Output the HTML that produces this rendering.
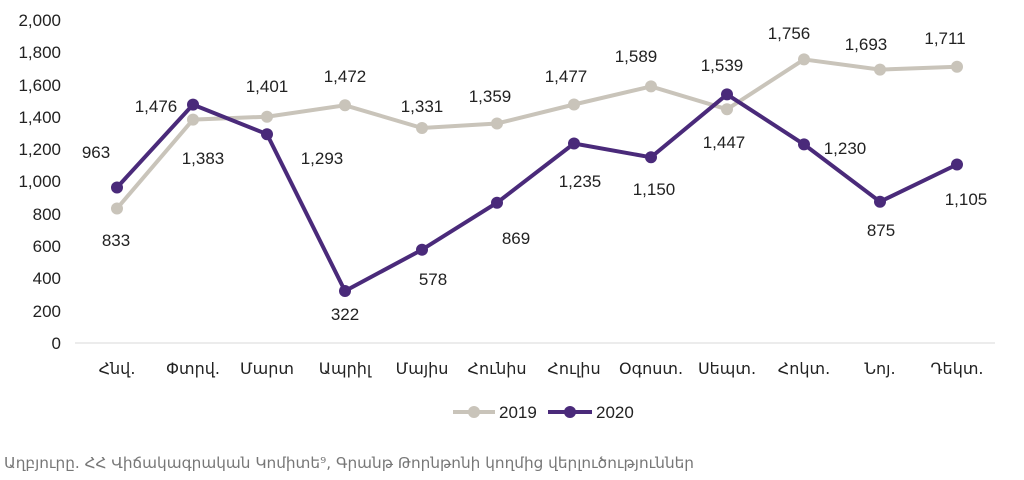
<!DOCTYPE html>
<html><head><meta charset="utf-8"><style>
body{margin:0;background:#fff;width:1024px;height:475px;overflow:hidden}
svg text{font-family:"Liberation Sans","DejaVu Sans",sans-serif;fill:#222;font-size:17px}
</style></head><body>
<svg width="1024" height="475" xmlns="http://www.w3.org/2000/svg">
<g text-anchor="end">
<text x="61" y="26">2,000</text><text x="61" y="58">1,800</text><text x="61" y="91">1,600</text>
<text x="61" y="123">1,400</text><text x="61" y="155">1,200</text><text x="61" y="187">1,000</text>
<text x="61" y="220">800</text><text x="61" y="252">600</text><text x="61" y="284">400</text>
<text x="61" y="317">200</text><text x="61" y="349">0</text>
</g>
<line x1="75" y1="343" x2="995" y2="343" stroke="#d8d8d8" stroke-width="1"/>
<g text-anchor="middle">
<text x="117" y="374" style="font-family:'DejaVu Sans',sans-serif;font-size:16px">Հնվ.</text><text x="193" y="374" style="font-family:'DejaVu Sans',sans-serif;font-size:16px">Փտրվ.</text>
<text x="267" y="374" style="font-family:'DejaVu Sans',sans-serif;font-size:16px">Մարտ</text><text x="345" y="374" style="font-family:'DejaVu Sans',sans-serif;font-size:16px">Ապրիլ</text>
<text x="422" y="374" style="font-family:'DejaVu Sans',sans-serif;font-size:16px">Մայիս</text><text x="497" y="374" style="font-family:'DejaVu Sans',sans-serif;font-size:16px">Հունիս</text>
<text x="574" y="374" style="font-family:'DejaVu Sans',sans-serif;font-size:16px">Հուլիս</text><text x="651" y="374" style="font-family:'DejaVu Sans',sans-serif;font-size:16px">Օգոստ.</text>
<text x="727" y="374" style="font-family:'DejaVu Sans',sans-serif;font-size:16px">Սեպտ.</text><text x="804" y="374" style="font-family:'DejaVu Sans',sans-serif;font-size:16px">Հոկտ.</text>
<text x="880" y="374" style="font-family:'DejaVu Sans',sans-serif;font-size:16px">Նոյ.</text><text x="957" y="374" style="font-family:'DejaVu Sans',sans-serif;font-size:16px">Դեկտ.</text>
</g>
<polyline fill="none" stroke="#c9c4ba" stroke-width="4" points="117,208.5 193,119.6 267,116.7 345,105.3 422,128 497,123.5 574,104.5 651,86.4 727,109.3 804,59.4 880,69.6 957,66.7"/>
<g fill="#c9c4ba">
<circle cx="117" cy="208.5" r="6"/><circle cx="193" cy="119.6" r="6"/><circle cx="267" cy="116.7" r="6"/><circle cx="345" cy="105.3" r="6"/><circle cx="422" cy="128" r="6"/><circle cx="497" cy="123.5" r="6"/><circle cx="574" cy="104.5" r="6"/><circle cx="651" cy="86.4" r="6"/><circle cx="727" cy="109.3" r="6"/><circle cx="804" cy="59.4" r="6"/><circle cx="880" cy="69.6" r="6"/><circle cx="957" cy="66.7" r="6"/>
</g>
<polyline fill="none" stroke="#4a2a7a" stroke-width="4" points="117,187.5 193,104.6 267,134.2 345,291 422,249.7 497,202.7 574,143.5 651,157.3 727,94.4 804,144.4 880,201.7 957,164.5"/>
<g fill="#4a2a7a">
<circle cx="117" cy="187.5" r="6"/><circle cx="193" cy="104.6" r="6"/><circle cx="267" cy="134.2" r="6"/><circle cx="345" cy="291" r="6"/><circle cx="422" cy="249.7" r="6"/><circle cx="497" cy="202.7" r="6"/><circle cx="574" cy="143.5" r="6"/><circle cx="651" cy="157.3" r="6"/><circle cx="727" cy="94.4" r="6"/><circle cx="804" cy="144.4" r="6"/><circle cx="880" cy="201.7" r="6"/><circle cx="957" cy="164.5" r="6"/>
</g>
<g text-anchor="middle">
<text x="96" y="158">963</text><text x="116" y="246">833</text>
<text x="156" y="112">1,476</text><text x="203" y="164">1,383</text>
<text x="267" y="92">1,401</text><text x="322" y="164">1,293</text>
<text x="345" y="82">1,472</text><text x="345" y="320">322</text>
<text x="422" y="112">1,331</text><text x="433" y="285">578</text>
<text x="490" y="102">1,359</text><text x="516" y="244">869</text>
<text x="566" y="82">1,477</text><text x="580" y="187">1,235</text>
<text x="636" y="62">1,589</text><text x="654" y="195">1,150</text>
<text x="722" y="71">1,539</text><text x="724" y="148">1,447</text>
<text x="789" y="39">1,756</text><text x="845" y="154">1,230</text>
<text x="866" y="50">1,693</text><text x="881" y="236">875</text>
<text x="945" y="44">1,711</text><text x="966" y="205">1,105</text>
</g>
<line x1="453" y1="412" x2="495" y2="412" stroke="#c9c4ba" stroke-width="4"/><circle cx="474" cy="412" r="6" fill="#c9c4ba"/>
<text x="499" y="418">2019</text>
<line x1="548" y1="412" x2="592" y2="412" stroke="#4a2a7a" stroke-width="4"/><circle cx="570" cy="412" r="6" fill="#4a2a7a"/>
<text x="596" y="418">2020</text>
<text x="4" y="468" textLength="690" lengthAdjust="spacingAndGlyphs" style="font-family:'DejaVu Sans',sans-serif;font-size:15px;fill:#777">Աղբյուրը. ՀՀ Վիճակագրական Կոմիտե⁹, Գրանթ Թորնթոնի կողմից վերլուծություններ</text>
</svg>
</body></html>
